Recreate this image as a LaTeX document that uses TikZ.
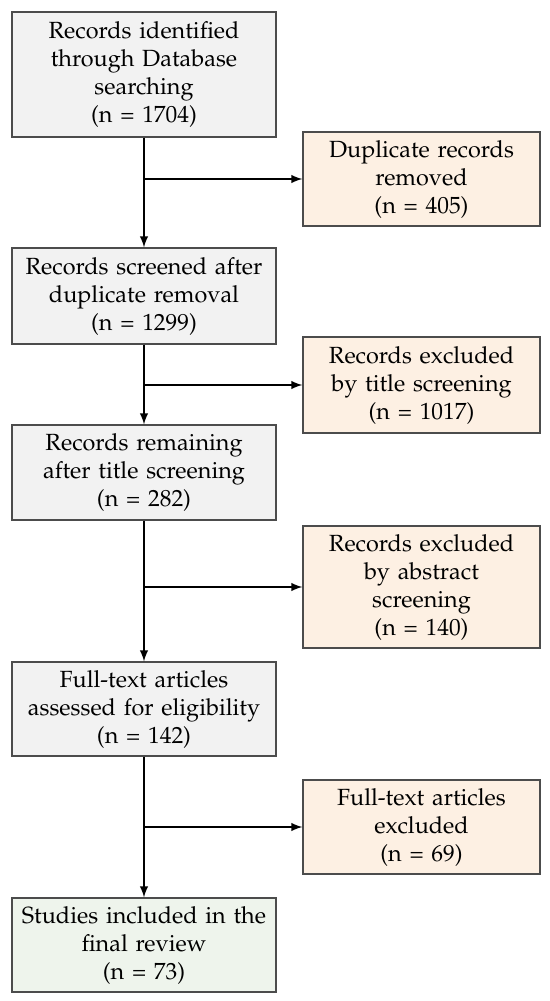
\documentclass[tikz,border=0pt]{standalone}
\usepackage[T1]{fontenc}
\usepackage{mathpazo}
\definecolor{stepgray}{HTML}{F2F2F2}
\definecolor{outpeach}{HTML}{FDF0E3}
\definecolor{endgreen}{HTML}{EEF4EC}
\begin{document}
\begin{tikzpicture}[x=0.5pt,y=-0.5pt]
\tikzstyle{box}=[draw=black!70,line width=0.6pt,align=center,inner sep=2pt,font=\fontsize{11.7}{14}\selectfont]
\tikzstyle{main}=[box,fill=stepgray,minimum width=132pt,text width=126pt]
\tikzstyle{side}=[box,fill=outpeach,minimum width=118.5pt,text width=112pt]
\tikzstyle{flow}=[line width=0.9pt,-latex]
\useasboundingbox (0,0) rectangle (550,1001);
\node[main,minimum height=62.5pt] (B1) at (144, 74.5) {Records identified\\ through Database\\ searching\\ (n = 1704)};
\node[side,minimum height=47pt] (R1) at (421.5, 179) {Duplicate records\\ removed\\ (n = 405)};
\node[main,minimum height=48pt] (B2) at (144, 296) {Records screened after\\ duplicate removal\\ (n = 1299)};
\node[side,minimum height=48pt] (R2) at (421.5, 385) {Records excluded\\ by title screening\\ (n = 1017)};
\node[main,minimum height=47.5pt] (B3) at (144, 472.5) {Records remaining\\ after title screening\\ (n = 282)};
\node[side,minimum height=61pt] (R3) at (421.5, 587) {Records excluded\\ by abstract\\ screening\\ (n = 140)};
\node[main,minimum height=47pt] (B4) at (144, 709) {Full-text articles\\ assessed for eligibility\\ (n = 142)};
\node[side,minimum height=47pt] (R4) at (421.5, 827) {Full-text articles\\ excluded\\ (n = 69)};
\node[main,fill=endgreen,minimum height=47pt] (B5) at (144, 945) {Studies included in the\\ final review\\ (n = 73)};
\draw[flow] (B1) -- (B2);
\draw[flow] (B2) -- (B3);
\draw[flow] (B3) -- (B4);
\draw[flow] (B4) -- (B5);
\draw[flow] (B1.south |- R1.west) -- (R1.west);
\draw[flow] (B2.south |- R2.west) -- (R2.west);
\draw[flow] (B3.south |- R3.west) -- (R3.west);
\draw[flow] (B4.south |- R4.west) -- (R4.west);
\end{tikzpicture}
\end{document}
